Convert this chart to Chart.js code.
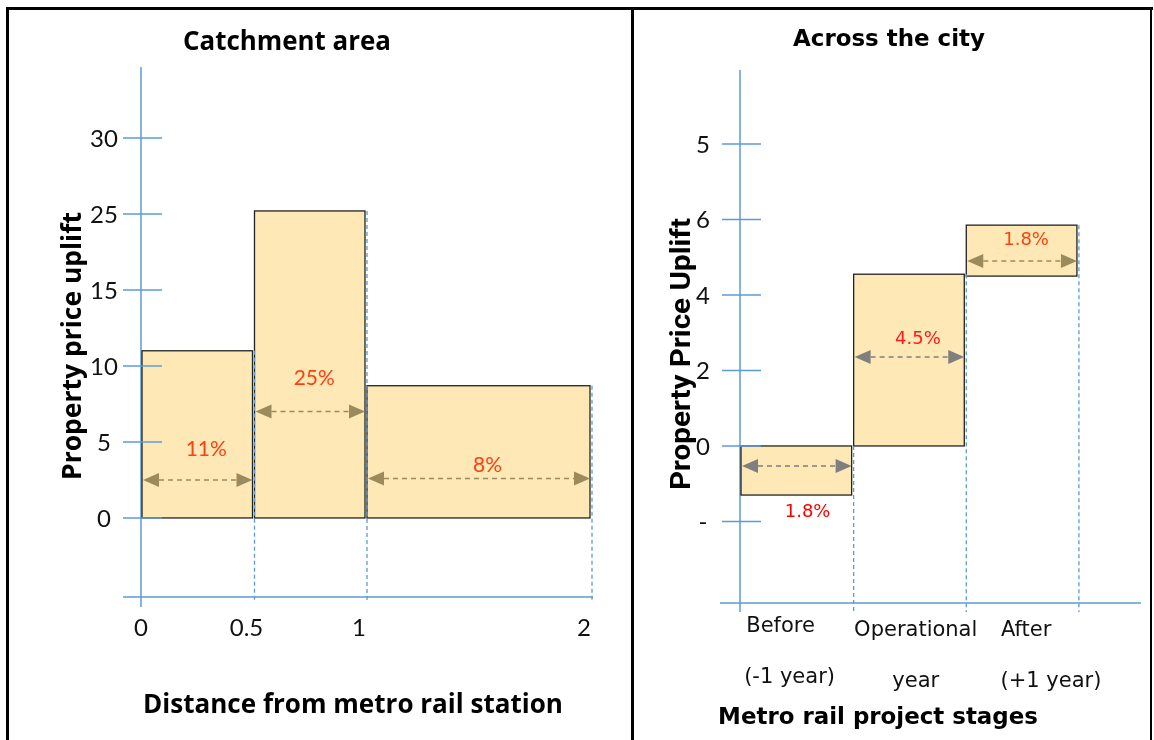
<!DOCTYPE html>
<html>
<head>
<meta charset="utf-8">
<script src="https://cdn.jsdelivr.net/npm/chart.js@4"></script>
<style>
  body { margin: 0; background: #fff; }
  #wrap { position: relative; width: 1154px; height: 740px; overflow: hidden; }
  canvas { position: absolute; top: 0; }
  .ln { position: absolute; background: #000; }
</style>
</head>
<body>
<div id="wrap">
  <canvas id="leftChart" width="632" height="740" style="left:0"></canvas>
  <canvas id="rightChart" width="522" height="740" style="left:632px"></canvas>
  <div class="ln" style="left:6px;top:7px;width:1147px;height:3px"></div>
  <div class="ln" style="left:6px;top:7px;width:3px;height:740px"></div>
  <div class="ln" style="left:631px;top:7px;width:3px;height:740px"></div>
  <div class="ln" style="left:1150px;top:7px;width:2px;height:740px"></div>
</div>
<script>
// catchment area (left)
const distEdges = [0, 0.5, 1, 2];
const catchUplift = [11, 20.2, 8.7];
const catchLabels = ["11%", "25%", "8%"];
const distTicks = [0, 0.5, 1, 2];
const upliftTickValues = [0, 5, 10, 15, 20, 25];
const upliftTickLabels = ["0", "5", "10", "15", "25", "30"];

// across the city (right)
const stageNames = [["Before", "(-1 year)"], ["Operational", "year"], ["After", "(+1 year)"]];
const stageLow = [-1.3, 0, 4.5];
const stageHigh = [0, 4.55, 5.85];
const stageLabels = ["1.8%", "4.5%", "1.8%"];
const cityTickValues = [-2, 0, 2, 4, 6, 8];
const cityTickLabels = ["-", "0", "2", "4", "6", "5"];

const AXIS = "#5b9bd5";
const FILL = "#fee9b6";
const KHAKI = "#9a8a5c";
const GREY = "#7f7f7f";

// returns horizontal squeeze factor; sets a font so text spans `width`
function fitFont(ctx, str, weight, family, width, size) {
  if (size) {
    ctx.font = weight + " " + size + "px " + family;
    return width / ctx.measureText(str).width;
  }
  ctx.font = weight + " 100px " + family;
  const s = 100 * width / ctx.measureText(str).width;
  ctx.font = weight + " " + s.toFixed(2) + "px " + family;
  return 1;
}

function line(ctx, x0, y0, x1, y1) {
  ctx.beginPath(); ctx.moveTo(x0, y0); ctx.lineTo(x1, y1); ctx.stroke();
}

function arrow(ctx, x0, x1, y, color) {
  const head = 16, half = 7;
  ctx.save();
  ctx.strokeStyle = color; ctx.fillStyle = color; ctx.lineWidth = 1.5;
  ctx.setLineDash([5, 4]);
  line(ctx, x0 + head, y, x1 - head, y);
  ctx.setLineDash([]);
  ctx.beginPath(); ctx.moveTo(x0, y); ctx.lineTo(x0 + head, y - half); ctx.lineTo(x0 + head, y + half); ctx.closePath(); ctx.fill();
  ctx.beginPath(); ctx.moveTo(x1, y); ctx.lineTo(x1 - head, y - half); ctx.lineTo(x1 - head, y + half); ctx.closePath(); ctx.fill();
  ctx.restore();
}

const sketch = {
  id: "sketch",
  afterDraw(chart, args, o) {
    const ctx = chart.ctx, a = chart.chartArea;
    const X = v => chart.scales.x.getPixelForValue(v);
    const Y = v => chart.scales.y.getPixelForValue(v);
    ctx.save();

    // axis lines
    ctx.strokeStyle = AXIS; ctx.lineWidth = 1.5;
    line(ctx, a.left, a.top, a.left, a.bottom + o.axisOver);
    line(ctx, a.left - o.xAxisLeft, a.bottom, a.right + o.xAxisRight, a.bottom);

    // bars
    o.bars.forEach(b => {
      const x0 = X(b.x0) + 1, x1 = X(b.x1) - 1, y0 = Y(b.hi), y1 = Y(b.lo);
      ctx.fillStyle = FILL;
      ctx.fillRect(x0, y0, x1 - x0, y1 - y0);
      ctx.strokeStyle = "#222"; ctx.lineWidth = 1.3;
      ctx.strokeRect(x0, y0, x1 - x0, y1 - y0);
    });

    // dashed drop lines at bar right edges
    ctx.strokeStyle = AXIS; ctx.lineWidth = 1.3; ctx.setLineDash([4, 3]);
    o.bars.forEach(b => line(ctx, X(b.x1) + 1, Y(b.hi), X(b.x1) + 1, a.bottom + o.dashOver));
    ctx.setLineDash([]);

    // y ticks
    ctx.strokeStyle = AXIS; ctx.lineWidth = 1.5;
    ctx.fillStyle = "#111"; ctx.font = o.tickFont;
    ctx.textAlign = "center"; ctx.textBaseline = "middle";
    o.yTicks.forEach((v, i) => {
      line(ctx, a.left - 18, Y(v), a.left + 21, Y(v));
      ctx.fillText(o.yLabels[i], a.left - 37, Y(v) + 1);
    });

    // x ticks / categories
    o.xTexts.forEach(t => {
      ctx.font = t.font; ctx.textAlign = t.align || "center";
      ctx.fillText(t.text, X(t.x) + (t.dx || 0), t.y);
    });

    // arrows and percentage notes
    o.bars.forEach(b => {
      arrow(ctx, X(b.x0) + 2, X(b.x1) - 1, Y(b.arrowY), b.arrowColor);
      ctx.fillStyle = b.noteColor; ctx.font = o.noteFont; ctx.textAlign = "center";
      ctx.fillText(b.note, X(b.noteX), Y(b.noteY));
    });

    // titles
    ctx.fillStyle = "#000"; ctx.textAlign = "center";
    o.titles.forEach(t => {
      const sx = fitFont(ctx, t.text, "bold", t.family, t.width, t.size);
      ctx.save();
      ctx.translate(t.x, t.y);
      if (t.rotate) ctx.rotate(-Math.PI / 2);
      ctx.scale(sx, 1);
      ctx.fillText(t.text, 0, 0);
      ctx.restore();
    });
    ctx.restore();
  }
};

function makeChart(id, cfg) {
  return new Chart(document.getElementById(id), {
    type: "scatter",
    data: { datasets: [] },
    options: {
      responsive: false,
      animation: false,
      layout: { padding: cfg.padding },
      scales: {
        x: { type: "linear", display: false, min: cfg.x[0], max: cfg.x[1] },
        y: { type: "linear", display: false, min: cfg.y[0], max: cfg.y[1] }
      },
      plugins: { legend: { display: false }, tooltip: { enabled: false }, sketch: cfg.sketch }
    },
    plugins: [sketch]
  });
}

// left panel annotation placement (data units)
const leftArrowAt = [2.5, 7.0, 2.6];
const leftNoteAt = [[0.29, 4.5], [0.77, 9.2], [1.54, 3.5]];

makeChart("leftChart", {
  padding: { left: 141, right: 41, top: 67, bottom: 143 },
  x: [0, 2],
  y: [-5.2, 29.67],
  sketch: {
    axisOver: 10, xAxisLeft: 18, xAxisRight: 2, dashOver: 3,
    tickFont: "24px Lato", noteFont: "21px Lato",
    yTicks: upliftTickValues, yLabels: upliftTickLabels,
    bars: catchUplift.map((v, i) => ({
      x0: distEdges[i], x1: distEdges[i + 1], lo: 0, hi: v,
      arrowY: leftArrowAt[i], arrowColor: KHAKI,
      note: catchLabels[i], noteX: leftNoteAt[i][0], noteY: leftNoteAt[i][1], noteColor: "#ff3f0f"
    })),
    xTexts: distTicks.map(v => ({ text: String(v), x: v, dx: v === 0 ? 0 : -7, y: 628, font: "24px Lato" })),
    titles: [
      { text: "Catchment area", family: "'Open Sans'", width: 208, x: 287, y: 43 },
      { text: "Distance from metro rail station", family: "'Open Sans'", width: 420, x: 353, y: 706 },
      { text: "Property price uplift", family: "'Open Sans'", width: 268, x: 73, y: 346, rotate: true }
    ]
  }
});

// right panel annotation placement (data units)
const rightArrowAt = [-0.53, 2.36, 4.9];
const rightNoteAt = [[0.6, -1.77], [1.58, 2.83], [2.54, 5.46]];
const rightArrowColors = [GREY, GREY, KHAKI];
const rightNoteColors = ["#ff0000", "#ff1a1a", "#ff3f0f"];
const stageTextAt = [[0.36, 0.44], [1.56, 1.56], [2.54, 2.76]];

makeChart("rightChart", {
  padding: { left: 108, right: 13, top: 70, bottom: 137 },
  x: [0, 3.56],
  y: [-4.16, 9.96],
  sketch: {
    axisOver: 9, xAxisLeft: 20, xAxisRight: 0, dashOver: 9,
    tickFont: "24px Lato", noteFont: "18px 'DejaVu Sans'",
    yTicks: cityTickValues, yLabels: cityTickLabels,
    bars: stageLow.map((v, i) => ({
      x0: i, x1: i + 1, lo: v, hi: stageHigh[i],
      arrowY: rightArrowAt[i], arrowColor: rightArrowColors[i],
      note: stageLabels[i], noteX: rightNoteAt[i][0], noteY: rightNoteAt[i][1], noteColor: rightNoteColors[i]
    })),
    xTexts: stageNames.flatMap((n, i) => [
      { text: n[0], x: stageTextAt[i][0], y: 627 + (i ? 4 : 0), font: "21px 'DejaVu Sans'" },
      { text: n[1], x: stageTextAt[i][1], y: 678 + (i ? 4 : 0), font: "21px 'DejaVu Sans'" }
    ]),
    titles: [
      { text: "Across the city", family: "'DejaVu Sans'", width: 192, x: 257, y: 40 },
      { text: "Metro rail project stages", family: "'DejaVu Sans'", width: 320, x: 246, y: 718 },
      { text: "Property Price Uplift", family: "Roboto", width: 272, size: 28, x: 51, y: 354, rotate: true }
    ]
  }
});
</script>
</body>
</html>
